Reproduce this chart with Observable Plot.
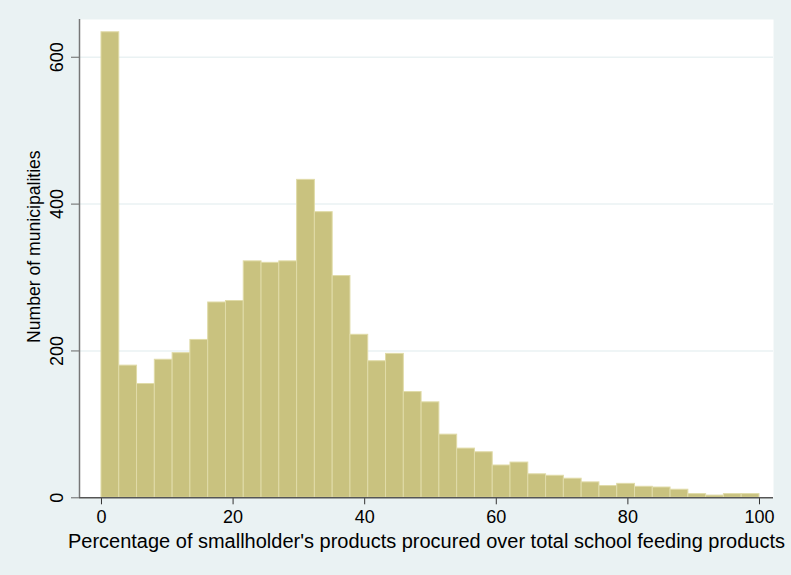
<!DOCTYPE html>
<html><head><meta charset="utf-8">
<script src="https://cdn.jsdelivr.net/npm/d3@7"></script>
<script src="https://cdn.jsdelivr.net/npm/@observablehq/plot@0.6"></script>
<style>
html,body{margin:0;padding:0;background:#EAF2F3;}
</style></head><body><div id="chart"></div>
<script>
const counts = [634,180,155,188,197,215,266,268,322,320,322,433,389,302,222,186,196,144,130,86,67,62,44,48,32,30,26,21,16,19,15,14,11,5,3,5,5];
const binMin = 0, binMax = 100;
const xTicks = [0,20,40,60,80,100];
const yTicks = [0,200,400,600];
const xTitle = "Percentage of smallholder's products procured over total school feeding products";
const yTitle = "Number of municipalities";

const nb = counts.length;
const bw = (binMax - binMin) / nb;
const bins = counts.map((c, i) => ({x1: binMin + i * bw, x2: binMin + (i + 1) * bw, count: c}));
const xMin = -3.34, xMax = 102.13;

const chart = Plot.plot({
  width: 791, height: 575,
  marginLeft: 79, marginRight: 18, marginTop: 19, marginBottom: 77.7,
  style: {background: "#EAF2F3", fontFamily: "'Liberation Sans', Arial, Helvetica, sans-serif", color: "#000", overflow: "visible"},
  x: {domain: [xMin, xMax]},
  y: {domain: [0, 651.4]},
  marks: [
    Plot.frame({fill: "white"}),
    Plot.gridY(yTicks.filter(d => d > 0), {stroke: "#EAF2F3", strokeOpacity: 1, strokeWidth: 1.5}),
    Plot.rectY(bins, {x1: "x1", x2: "x2", y1: 0, y2: "count", fill: "#C9C27F", stroke: "#E0DBA8", strokeWidth: 1}),
    Plot.axisX({ticks: xTicks, tickSize: 7, tickPadding: 5, fontSize: 18, tickFormat: d3.format("d"),
      label: xTitle, labelAnchor: "center", labelArrow: "none", labelOffset: 50, stroke: "#333"}),
    Plot.axisY({ticks: yTicks, tickSize: 8, tickPadding: 9, tickRotate: -90, fontSize: 18, tickFormat: d3.format("d"),
      label: yTitle, labelAnchor: "center", labelArrow: "none", labelOffset: 52, stroke: "#666"}),
    Plot.ruleY([0], {stroke: "#555", strokeWidth: 1.5}),
    Plot.ruleX([xMin], {stroke: "#777", strokeWidth: 1.5})
  ]
});
document.getElementById("chart").appendChild(chart);
// widen x title to match reference text extent
const xl = chart.querySelector('[aria-label="x-axis label"] text');
if (xl) {
  xl.setAttribute("font-size", "19.5");
  xl.setAttribute("textLength", "717");
  xl.setAttribute("lengthAdjust", "spacingAndGlyphs");
}
const yl = chart.querySelector('[aria-label="y-axis label"] text');
if (yl) {
  yl.style.fontSize = "17.6px";
  yl.setAttribute("dx", "12");
}
</script></body></html>
